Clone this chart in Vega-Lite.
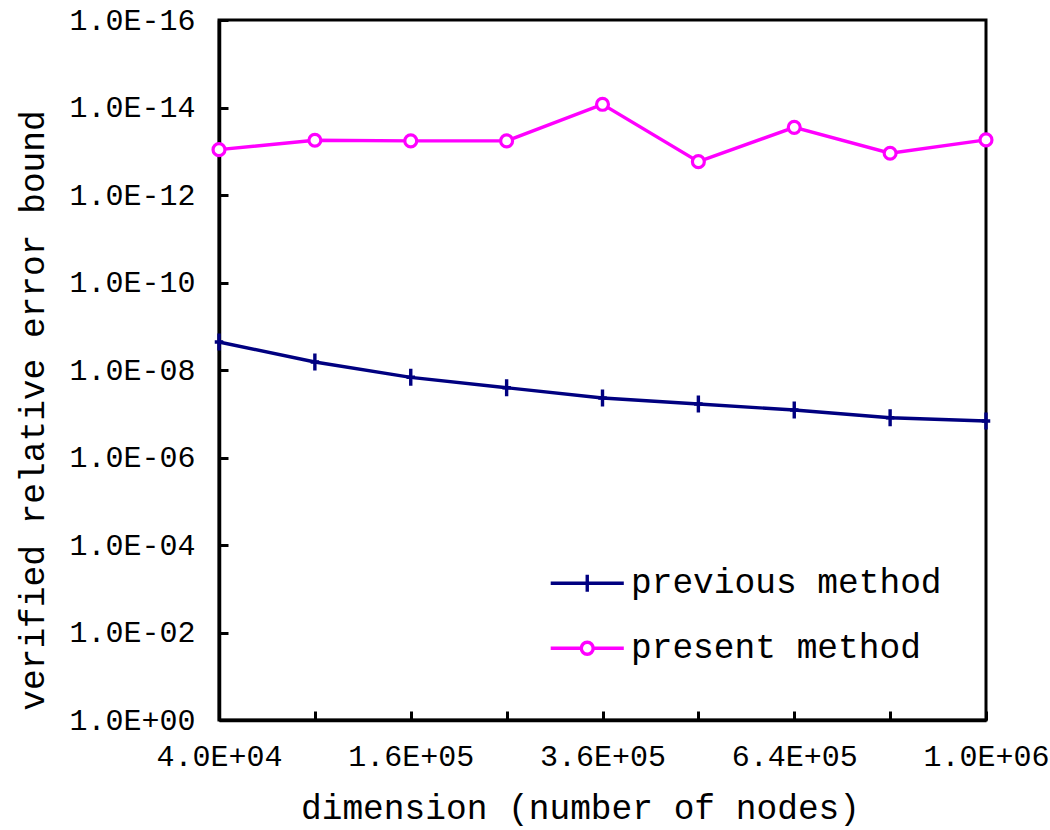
{
  "$schema": "https://vega.github.io/schema/vega-lite/v6.json",
  "width": 767,
  "height": 700,
  "autosize": {"type": "none"},
  "padding": {"left": 219, "top": 20, "right": 64, "bottom": 110},
  "background": "white",
  "config": {
    "view": {"stroke": "black", "strokeWidth": 3},
    "font": "Liberation Mono",
    "axis": {
      "domainColor": "black", "domainWidth": 3.5,
      "tickColor": "black", "tickWidth": 3, "tickSize": -9,
      "grid": false,
      "labelFont": "Liberation Mono", "labelFontSize": 30, "labelColor": "black",
      "titleFont": "Liberation Mono", "titleFontSize": 34.5, "titleFontWeight": "normal", "titleColor": "black",
      "zindex": 1
    }
  },
  "data": {
    "values": [
      {"n": 40000, "method": "previous method", "error": 2.29e-9},
      {"n": 90000, "method": "previous method", "error": 6.56e-9},
      {"n": 160000, "method": "previous method", "error": 1.47e-8},
      {"n": 250000, "method": "previous method", "error": 2.54e-8},
      {"n": 360000, "method": "previous method", "error": 4.37e-8},
      {"n": 490000, "method": "previous method", "error": 5.98e-8},
      {"n": 640000, "method": "previous method", "error": 8.2e-8},
      {"n": 810000, "method": "previous method", "error": 1.23e-7},
      {"n": 1000000, "method": "previous method", "error": 1.47e-7},
      {"n": 40000, "method": "present method", "error": 9.2e-14},
      {"n": 90000, "method": "present method", "error": 5.6e-14},
      {"n": 160000, "method": "present method", "error": 5.8e-14},
      {"n": 250000, "method": "present method", "error": 5.8e-14},
      {"n": 360000, "method": "present method", "error": 8.45e-15},
      {"n": 490000, "method": "present method", "error": 1.73e-13},
      {"n": 640000, "method": "present method", "error": 2.84e-14},
      {"n": 810000, "method": "present method", "error": 1.11e-13},
      {"n": 1000000, "method": "present method", "error": 5.5e-14}
    ]
  },
  "encoding": {
    "x": {
      "field": "n", "type": "quantitative",
      "scale": {"type": "sqrt", "domain": [40000, 1000000], "zero": false, "nice": false},
      "axis": {
        "title": "dimension (number of nodes)",
        "values": [40000, 90000, 160000, 250000, 360000, 490000, 640000, 810000, 1000000],
        "labelExpr": "indexof([40000,160000,360000,640000,1000000], datum.value) >= 0 ? replace(upper(format(datum.value, '.1e')), '+', '+0') : ''",
        "labelPadding": 30,
        "labelFlush": false,
        "labelOverlap": false,
        "titleX": 361, "titleY": 88, "titleAlign": "center", "titleBaseline": "middle"
      }
    },
    "y": {
      "field": "error", "type": "quantitative",
      "scale": {"type": "log", "domain": [1e-16, 1], "reverse": true, "nice": false},
      "axis": {
        "title": "verified relative error bound",
        "values": [1, 1e-2, 1e-4, 1e-6, 1e-8, 1e-10, 1e-12, 1e-14, 1e-16],
        "labelExpr": "'1.0E' + (datum.value >= 0.5 ? '+00' : '-' + (datum.value > 5e-10 ? '0' : '') + format(-log(datum.value)/LN10, '.0f'))",
        "labelPadding": 33,
        "labelFlush": false,
        "labelOverlap": false,
        "titleX": -186, "titleY": 390, "titleAlign": "center", "titleBaseline": "middle", "titleAngle": -90
      }
    },
    "color": {
      "field": "method", "type": "nominal",
      "scale": {"domain": ["previous method", "present method"], "range": ["#000080", "#FF00FF"]},
      "legend": null
    }
  },
  "layer": [
    {
      "mark": {"type": "line", "strokeWidth": 3.4},
      "encoding": {
        "color": {
          "field": "method", "type": "nominal",
          "legend": {
            "orient": "none", "legendX": 351, "legendY": 546, "title": null,
            "labelFont": "Liberation Mono", "labelFontSize": 34.5, "labelColor": "black", "labelLimit": 0,
            "symbolSize": 289, "symbolStrokeWidth": 3.4, "labelOffset": 26.5, "rowPadding": 30, "padding": 0,
            "encode": {
              "symbols": {
                "update": {
                  "shape": {"signal": "datum.value === 'previous method' ? 'M-4.3,0H4.3M0,-1V1' : 'M-4.3,0H-0.7M0.7,0H4.3M0.7,0A0.7,0.7 0 1,1 -0.7,0A0.7,0.7 0 1,1 0.7,0Z'"},
                  "fill": {"value": "transparent"}
                }
              }
            }
          }
        }
      }
    },
    {
      "transform": [{"filter": "datum.method === 'previous method'"}],
      "mark": {"type": "point", "shape": "M-0.5,0H0.5M0,-1V1", "filled": false, "strokeWidth": 3.4, "opacity": 1, "size": 289}
    },
    {
      "transform": [{"filter": "datum.method === 'present method'"}],
      "mark": {"type": "point", "shape": "M0.7,0A0.7,0.7 0 1,1 -0.7,0A0.7,0.7 0 1,1 0.7,0Z", "filled": false, "fill": "white", "fillOpacity": 1, "strokeWidth": 3.2, "opacity": 1, "size": 289}
    }
  ]
}
